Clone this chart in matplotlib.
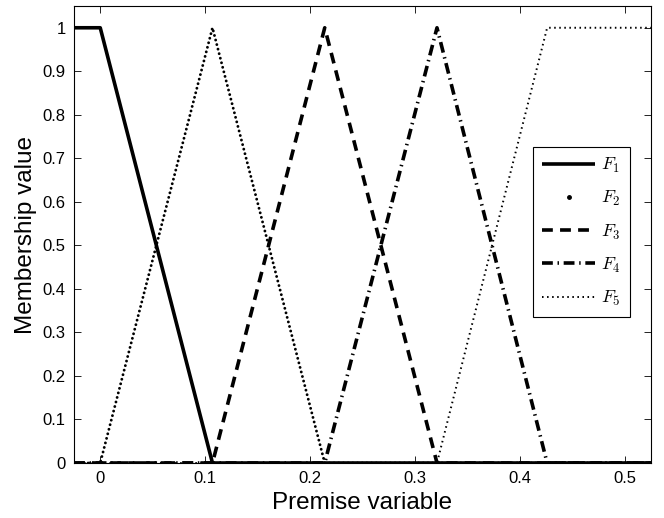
import numpy as np
import matplotlib.pyplot as plt
from matplotlib.lines import Line2D

# breakpoints of the membership functions
x_lo, x_hi = -0.025, 0.525
c = [0, 0.107, 0.214, 0.321, 0.426]

x_F1 = [x_lo, c[0], c[1], x_hi]
y_F1 = [1, 1, 0, 0]
x_F2 = [x_lo, c[0], c[1], c[2], x_hi]
y_F2 = [0, 0, 1, 0, 0]
x_F3 = [x_lo, c[1], c[2], c[3], x_hi]
y_F3 = [0, 0, 1, 0, 0]
x_F4 = [x_lo, c[2], c[3], c[4], x_hi]
y_F4 = [0, 0, 1, 0, 0]
x_F5 = [x_lo, c[3], c[4], x_hi]
y_F5 = [0, 0, 1, 1]

labels = ["$F_1$", "$F_2$", "$F_3$", "$F_4$", "$F_5$"]

plt.rcParams["font.family"] = ["Liberation Sans", "DejaVu Sans"]
plt.rcParams["mathtext.fontset"] = "cm"

fig = plt.figure(figsize=(6.64, 5.18), dpi=100)
ax = fig.add_axes([74/664, 1-463/518, 577/664, 457/518])

l1, = ax.plot(x_F1, y_F1, color="black", lw=2.6, solid_capstyle="butt")
# F2 is drawn as densely spaced dots
ax.plot(x_F2, y_F2, color="black", lw=2.1, linestyle=(0, (0.01, 1.6)),
        dash_capstyle="round")
l3, = ax.plot(x_F3, y_F3, color="black", lw=2.6, linestyle=(0, (3, 2)))
l4, = ax.plot(x_F4, y_F4, color="black", lw=2.6,
              linestyle=(0, (3, 1.3, 0.4, 1.3)))
l5, = ax.plot(x_F5, y_F5, color="black", lw=1.4, linestyle=(0, (0.8, 1.8)))

l2 = Line2D([], [], color="black", marker=".", markersize=5, linestyle="None")

ax.set_xlim(x_lo, x_hi)
ax.set_ylim(0, 1.05)
ax.set_xticks([0, 0.1, 0.2, 0.3, 0.4, 0.5])
ax.set_xticklabels(["0", "0.1", "0.2", "0.3", "0.4", "0.5"])
ax.set_yticks(np.round(np.arange(0, 1.01, 0.1), 1))
ax.set_yticklabels(["0", "0.1", "0.2", "0.3", "0.4", "0.5", "0.6", "0.7",
                    "0.8", "0.9", "1"])
ax.tick_params(direction="in", top=True, right=True, labelsize=12, length=5,
               width=0.6, pad=6)
for s in ax.spines.values():
    s.set_linewidth(0.8)

ax.set_xlabel("Premise variable", fontsize=17.5, labelpad=4)
ax.set_ylabel("Membership value", fontsize=17.5, labelpad=4)

leg = ax.legend([l1, l2, l3, l4, l5], labels, loc="upper right",
                bbox_to_anchor=(0.963, 0.691), fontsize=13, fancybox=False,
                framealpha=1, edgecolor="black", handlelength=2.9,
                labelspacing=0.78, borderpad=0.5, handletextpad=0.35,
                borderaxespad=0)
leg.get_frame().set_linewidth(0.8)

plt.savefig("out.png")
